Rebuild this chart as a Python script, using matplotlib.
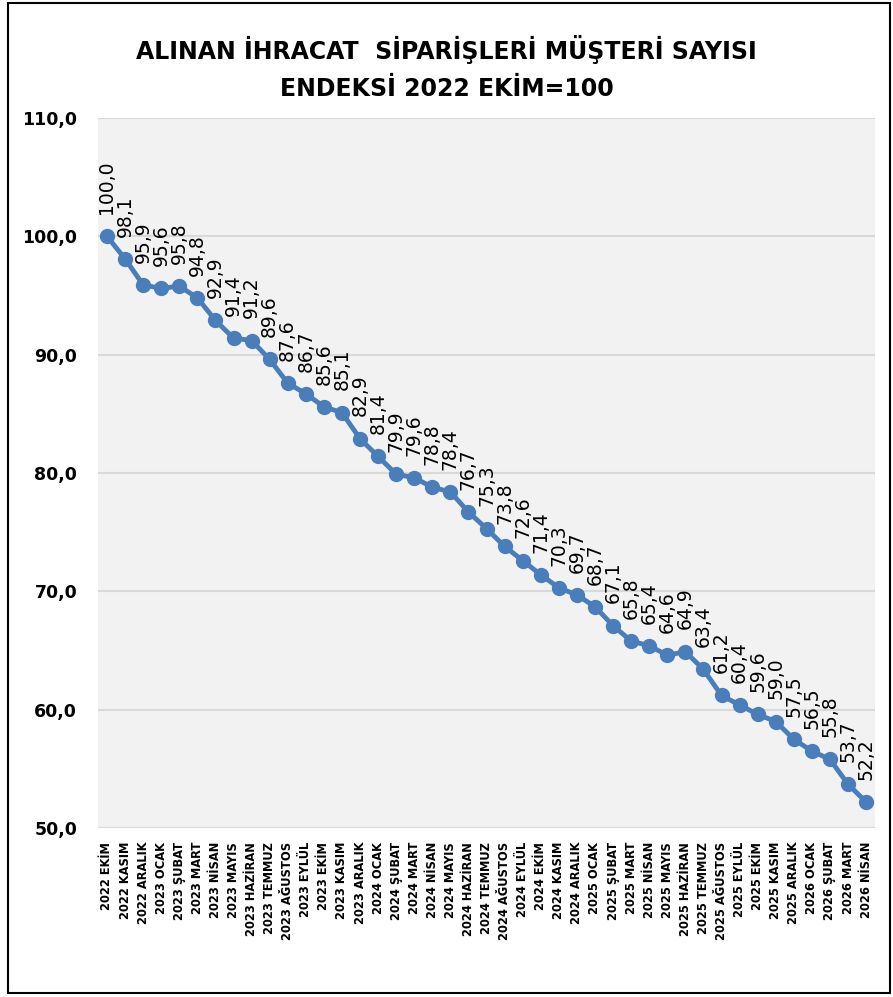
import numpy as np
import matplotlib.pyplot as plt
from matplotlib.patches import Rectangle

donemler = ['2022 EKİM', '2022 KASIM', '2022 ARALIK', '2023 OCAK', '2023 ŞUBAT', '2023 MART',
            '2023 NİSAN', '2023 MAYIS', '2023 HAZİRAN', '2023 TEMMUZ', '2023 AĞUSTOS', '2023 EYLÜL',
            '2023 EKİM', '2023 KASIM', '2023 ARALIK', '2024 OCAK', '2024 ŞUBAT', '2024 MART',
            '2024 NİSAN', '2024 MAYIS', '2024 HAZİRAN', '2024 TEMMUZ', '2024 AĞUSTOS', '2024 EYLÜL',
            '2024 EKİM', '2024 KASIM', '2024 ARALIK', '2025 OCAK', '2025 ŞUBAT', '2025 MART',
            '2025 NİSAN', '2025 MAYIS', '2025 HAZİRAN', '2025 TEMMUZ', '2025 AĞUSTOS', '2025 EYLÜL',
            '2025 EKİM', '2025 KASIM', '2025 ARALIK', '2026 OCAK', '2026 ŞUBAT', '2026 MART',
            '2026 NİSAN']
endeks = [100.0, 98.1, 95.9, 95.6, 95.8, 94.8, 92.9, 91.4, 91.2, 89.6, 87.6, 86.7,
          85.6, 85.1, 82.9, 81.4, 79.9, 79.6, 78.8, 78.4, 76.7, 75.3, 73.8, 72.6,
          71.4, 70.3, 69.7, 68.7, 67.1, 65.8, 65.4, 64.6, 64.9, 63.4, 61.2, 60.4,
          59.6, 59.0, 57.5, 56.5, 55.8, 53.7, 52.2]
y_ticks = [50, 60, 70, 80, 90, 100, 110]

fig = plt.figure(figsize=(8.93, 9.97), dpi=100)
ax = fig.add_axes([0.1097, 0.1695, 0.8703, 0.7121])
ax.set_facecolor('#F2F2F2')

x = np.arange(len(endeks))
ax.plot(x, endeks, color='#4A7EBB', linewidth=3.5, marker='o', markersize=10, zorder=3)

for i, v in enumerate(endeks):
    ax.annotate(f'{v:.1f}'.replace('.', ','), (i, v), xytext=(0, 16), textcoords='offset points',
                rotation=90, ha='center', va='bottom', fontsize=13.5, color='black')

ax.set_xlim(-0.5, len(endeks) - 0.5)
ax.set_ylim(50, 110)
ax.set_yticks(y_ticks)
ax.set_yticklabels([f'{t:.1f}'.replace('.', ',') for t in y_ticks], fontsize=12.5, fontweight='bold')
ax.set_xticks(x)
ax.set_xticklabels(donemler, rotation=90, fontsize=8.3, fontweight='bold')
ax.tick_params(axis='x', length=0, pad=10)
ax.tick_params(axis='y', length=0, pad=15)
ax.yaxis.grid(True, color='#D9D9D9', linewidth=1.5)
ax.set_axisbelow(True)
for s in ax.spines.values():
    s.set_visible(False)

fig.text(0.5, 0.950, 'ALINAN İHRACAT  SİPARİŞLERİ MÜŞTERİ SAYISI', ha='center', va='center',
         fontsize=17, fontweight='bold')
fig.text(0.5, 0.911, 'ENDEKSİ 2022 EKİM=100', ha='center', va='center',
         fontsize=17, fontweight='bold')

fig.patches.append(Rectangle((0.009, 0.004), 0.988, 0.993, transform=fig.transFigure,
                             fill=False, edgecolor='black', linewidth=1.5))

plt.savefig('out.png', dpi=100)
